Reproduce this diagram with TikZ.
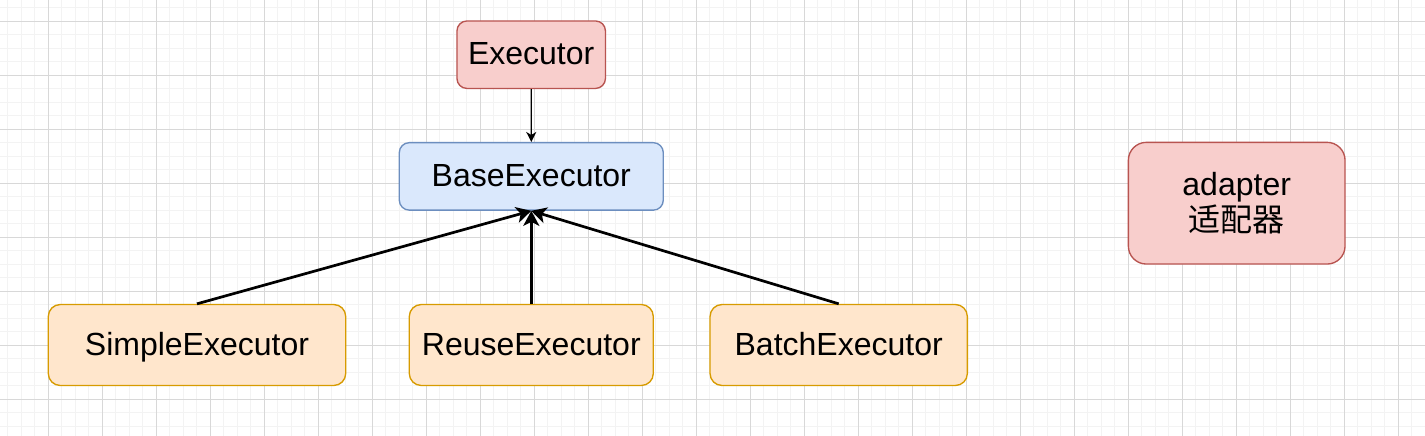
\documentclass[tikz,border=0pt]{standalone}
\usepackage{fontspec}
\setmainfont{Liberation Sans}
\newfontfamily\cjkfont{Noto Sans CJK SC}
\usetikzlibrary{arrows.meta}
\definecolor{redfill}{HTML}{F8CECC}
\definecolor{redline}{HTML}{B85450}
\definecolor{bluefill}{HTML}{DAE8FC}
\definecolor{blueline}{HTML}{6C8EBF}
\definecolor{orfill}{HTML}{FFE6CC}
\definecolor{orline}{HTML}{D79B00}
\definecolor{gridminor}{HTML}{F3F3F3}
\definecolor{gridmajor}{HTML}{D8D8D8}
\tikzset{
  box/.style={draw, line width=1.35pt, rounded corners=#1, inner sep=0pt, align=center,
    font=\fontsize{32}{38}\selectfont},
  oneline/.style={text height=23pt, text depth=2.4pt},
  redbox/.style={box=10pt, oneline, fill=redfill, draw=redline},
  bluebox/.style={box=10pt, oneline, fill=bluefill, draw=blueline},
  orbox/.style={box=12pt, oneline, fill=orfill, draw=orline},
  thinarrow/.style={line width=1.35pt, -{Stealth[length=10pt, width=10pt, inset=3pt]}},
  thickarrow/.style={line width=2.7pt, -{Stealth[length=15pt, width=16pt, inset=4pt]}},
}
\begin{document}
\begin{tikzpicture}[x=1pt, y=-1pt]
\fill[white] (0,0) rectangle (1425,436);
\useasboundingbox (0,0) rectangle (1425,436);
% grid
\foreach \i in {0,...,105} {
  \draw[gridminor, line width=1.35pt] ({7.8+13.5*\i},0) -- ({7.8+13.5*\i},436);
}
\foreach \i in {0,...,32} {
  \draw[gridminor, line width=1.35pt] (0,{7.8+13.5*\i}) -- (1425,{7.8+13.5*\i});
}
\foreach \i in {-1,...,26} {
  \draw[gridmajor, line width=1.35pt] ({48.3+54*\i},0) -- ({48.3+54*\i},436);
}
\foreach \i in {0,...,7} {
  \draw[gridmajor, line width=1.35pt] (0,{21.3+54*\i}) -- (1425,{21.3+54*\i});
}
% nodes
\node[redbox, minimum width=148.5pt, minimum height=67.5pt] (exec) at (531.2,54.7) {Executor};
\node[bluebox, minimum width=264pt, minimum height=67.5pt] (base) at (531.3,176.4) {BaseExecutor};
\node[orbox, minimum width=297.4pt, minimum height=81pt] (simple) at (197,345) {SimpleExecutor};
\node[orbox, minimum width=244pt, minimum height=81pt] (reuse) at (531.3,345) {ReuseExecutor};
\node[orbox, minimum width=257.3pt, minimum height=81pt] (batch) at (838.7,345) {BatchExecutor};
\node[box=18pt, fill=redfill, draw=redline, minimum width=216.7pt, minimum height=121.7pt] (adapter) at (1236.7,203.2) {adapter\\[-2pt]{\cjkfont 适配器}};
% edges
\draw[thinarrow] (exec) -- (base);
\draw[thickarrow] (simple.north) -- (base.south);
\draw[thickarrow] (reuse.north) -- (base.south);
\draw[thickarrow] (batch.north) -- (base.south);
\end{tikzpicture}
\end{document}
